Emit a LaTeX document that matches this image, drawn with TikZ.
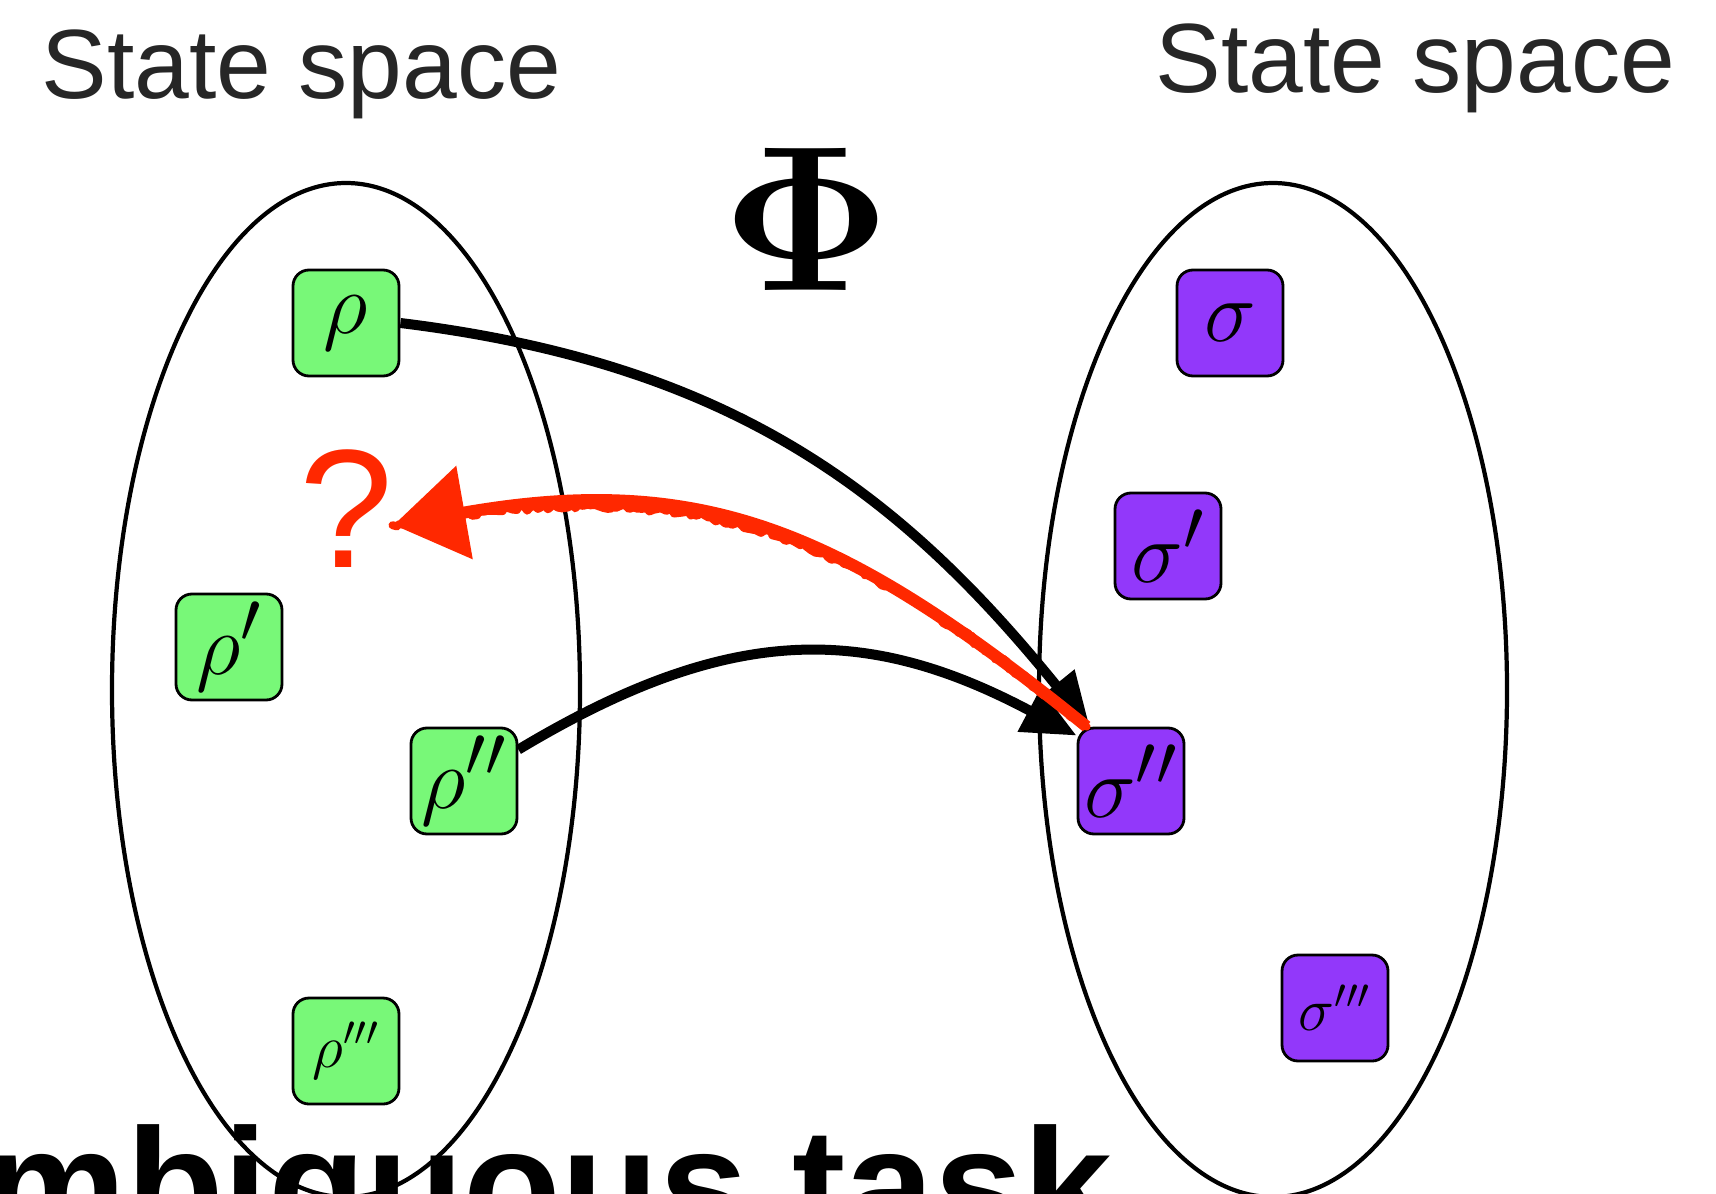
\documentclass[tikz,border=0pt]{standalone}
\usepackage{amsmath,amssymb}
\usepackage[no-math]{fontspec}
\setmainfont{Liberation Sans}
\usetikzlibrary{shapes.geometric,arrows.meta,decorations.pathmorphing}
\definecolor{stategreen}{RGB}{120,248,120}
\definecolor{statepurple}{RGB}{146,56,250}
\definecolor{askred}{RGB}{255,40,0}

\begin{document}
\begin{tikzpicture}[x=0.1mm, y=-0.1mm,
  setbox/.style={draw, ellipse, line width=1.2pt, minimum width=46.8mm, minimum height=101.4mm, inner sep=0pt},
  rhobox/.style={draw, rounded corners=1.6mm, fill=stategreen, line width=0.8pt, minimum size=10.6mm, inner sep=0pt, font=\Huge},
  sigmabox/.style={rhobox, fill=statepurple},
  mapto/.style={line width=1.0mm, -{Triangle[length=5.4mm,width=4.6mm]}},
  sketchback/.style={draw=askred, line width=1.2mm, -{Triangle[length=7.2mm,width=9.2mm]},
    postaction={draw=askred, line width=0.8mm, line join=round, line cap=round, -, decorate, decoration={random steps, segment length=1.2pt, amplitude=0.8pt}}}]

\useasboundingbox (0,0) rectangle (1716,1194);
\clip (0,0) rectangle (1716,1194);
\pgfmathsetseed{7}

% Titles
\node[anchor=base west, font=\fontsize{28}{32}\selectfont, color=black!85] (lefttitle) at (29,98) {State space};
\node[anchor=base west, font=\fontsize{28}{32}\selectfont, color=black!85] (righttitle) at (1143,92) {State space};
\node[font=\Huge, scale=2.37] (phi) at (807,219) {$\mathbf{\Phi}$};

% The two state spaces
\node[setbox] (leftset) at (346,690) {};
\node[setbox] (rightset) at (1273,690) {};

% States on the left
\node[rhobox] (rho) at (346,323) {$\rho$};
\node[rhobox] (rhoA) at (229,647) {$\rho'$};
\node[rhobox] (rhoB) at (464,781) {$\rho''$};
\node[rhobox, font=\LARGE] (rhoC) at (346,1051) {$\rho'''$};

% States on the right
\node[sigmabox] (sigma) at (1230,323) {$\sigma$};
\node[sigmabox] (sigmaA) at (1168,546) {$\sigma'$};
\node[sigmabox] (sigmaB) at (1131,781) {$\sigma''$};
\node[sigmabox, font=\LARGE] (sigmaC) at (1335,1008) {$\sigma'''$};

% Question mark
\node[inner sep=0pt, text=askred, font=\fontsize{48}{50}\selectfont] (query) at (346,509) {?};

% Arrows
\draw[mapto] (rho.east) to[out=-7, in=129, out distance=33mm, in distance=30.6mm] ([xshift=1.3mm]sigmaB.north west);
\draw[mapto] (rhoB.30) to[out=31, in=152, out distance=24.6mm, in distance=23.8mm] ([yshift=-0.9mm]sigmaB.north west);
\draw[sketchback] ([xshift=1mm]sigmaB.north west) to[out=141, in=10, out distance=31.2mm, in distance=31.4mm] ([yshift=-1.6mm]query.east);

% Caption
\node[anchor=base east, font=\fontsize{45.5}{50}\selectfont\bfseries] (caption) at (1125,1240) {Ambiguous task};

\end{tikzpicture}
\end{document}
